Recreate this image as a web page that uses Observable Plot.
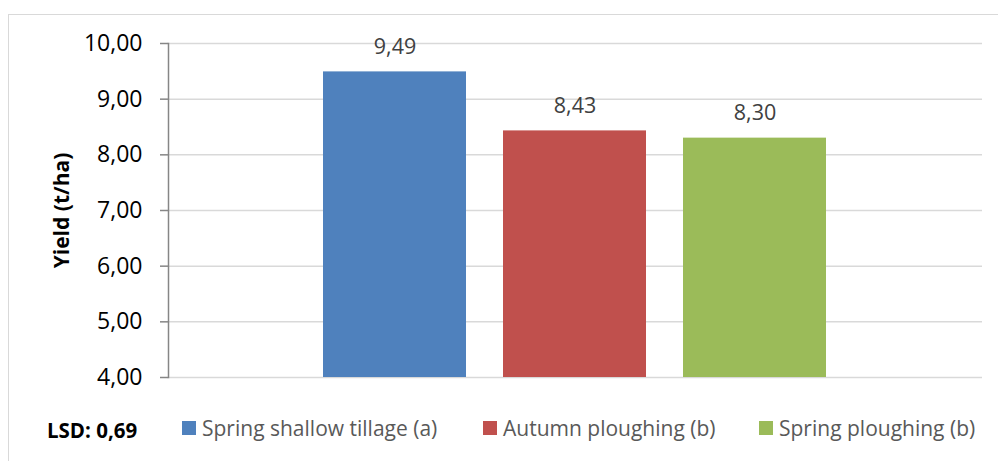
<!DOCTYPE html>
<html>
<head>
<meta charset="utf-8">
<script src="https://cdn.jsdelivr.net/npm/d3@7"></script>
<script src="https://cdn.jsdelivr.net/npm/@observablehq/plot@0.6"></script>
<style>
  html, body { margin: 0; padding: 0; background: #fff; }
  #wrap { position: relative; width: 998px; height: 461px; overflow: hidden; font-family: "Open Sans", sans-serif; }
  #frame { position: absolute; left: 8px; top: 14px; width: 1100px; height: 600px; border-left: 1.5px solid #d9d9d9; border-top: 1.5px solid #d9d9d9; }
  #chart { position: absolute; left: 0; top: 0; }
  .leg { position: absolute; top: 414px; display: flex; align-items: center; font-size: 21px; color: #595959; white-space: nowrap; line-height: 28px; }
  .sw { width: 14px; height: 14px; margin-right: 6px; }
  #lsd { position: absolute; left: 47px; top: 416px; font-size: 20.5px; font-weight: bold; color: #000; white-space: nowrap; line-height: 28px; }
</style>
</head>
<body>
<div id="wrap">
  <div id="frame"></div>
  <div id="chart"></div>
  <div id="legend"></div>
</div>
<script>
const series = ["Spring shallow tillage (a)", "Autumn ploughing (b)", "Spring ploughing (b)"];
const yields = [9.49, 8.43, 8.30];
const colors = ["#4F81BD", "#C0504D", "#9BBB59"];
const yTicks = [4, 5, 6, 7, 8, 9, 10];
const lsdText = "LSD: 0,69";
const yLabel = "Yield (t/ha)";

const data = series.map((s, i) => ({series: s, value: yields[i]}));
const fmt = d => d.toFixed(2).replace(".", ",");

const chart = Plot.plot({
  width: 998,
  height: 400,
  marginTop: 43,
  marginBottom: 23,
  marginLeft: 168,
  marginRight: 16,
  style: {fontFamily: "Open Sans, sans-serif", background: "transparent", overflow: "visible"},
  x: {domain: series, paddingInner: 0.205, paddingOuter: 0.857, axis: null},
  y: {domain: [4, 10], ticks: yTicks, axis: null},
  color: {domain: series, range: colors},
  marks: [
    Plot.gridY(yTicks, {stroke: "#d9d9d9", strokeOpacity: 1, strokeWidth: 1.5}),
    Plot.barY(data, {x: "series", y1: 4, y2: "value", fill: "series"}),
    Plot.axisY(yTicks, {tickSize: 8, tickPadding: 18, tickFormat: fmt, fontSize: 23, stroke: "#868686", strokeWidth: 1.5, fill: "#000", label: null}),
    Plot.frame({anchor: "left", stroke: "#868686", strokeWidth: 1.5}),
    Plot.text(data, {x: "series", y: "value", text: d => fmt(d.value), dy: -25, fontSize: 21.5, fill: "#404040"}),
    Plot.text([yLabel], {frameAnchor: "left", textAnchor: "middle", dx: -106, rotate: -90, fontSize: 21, fontWeight: "bold", fill: "#000"})
  ]
});
document.getElementById("chart").appendChild(chart);

const legend = document.getElementById("legend");
const lsd = document.createElement("div");
lsd.id = "lsd";
lsd.textContent = lsdText;
legend.appendChild(lsd);
const lefts = [182, 483, 759];
series.forEach((s, i) => {
  const item = document.createElement("div");
  item.className = "leg";
  item.style.left = lefts[i] + "px";
  const sw = document.createElement("div");
  sw.className = "sw";
  sw.style.background = colors[i];
  const t = document.createElement("span");
  t.textContent = s;
  item.appendChild(sw);
  item.appendChild(t);
  legend.appendChild(item);
});
</script>
</body>
</html>
